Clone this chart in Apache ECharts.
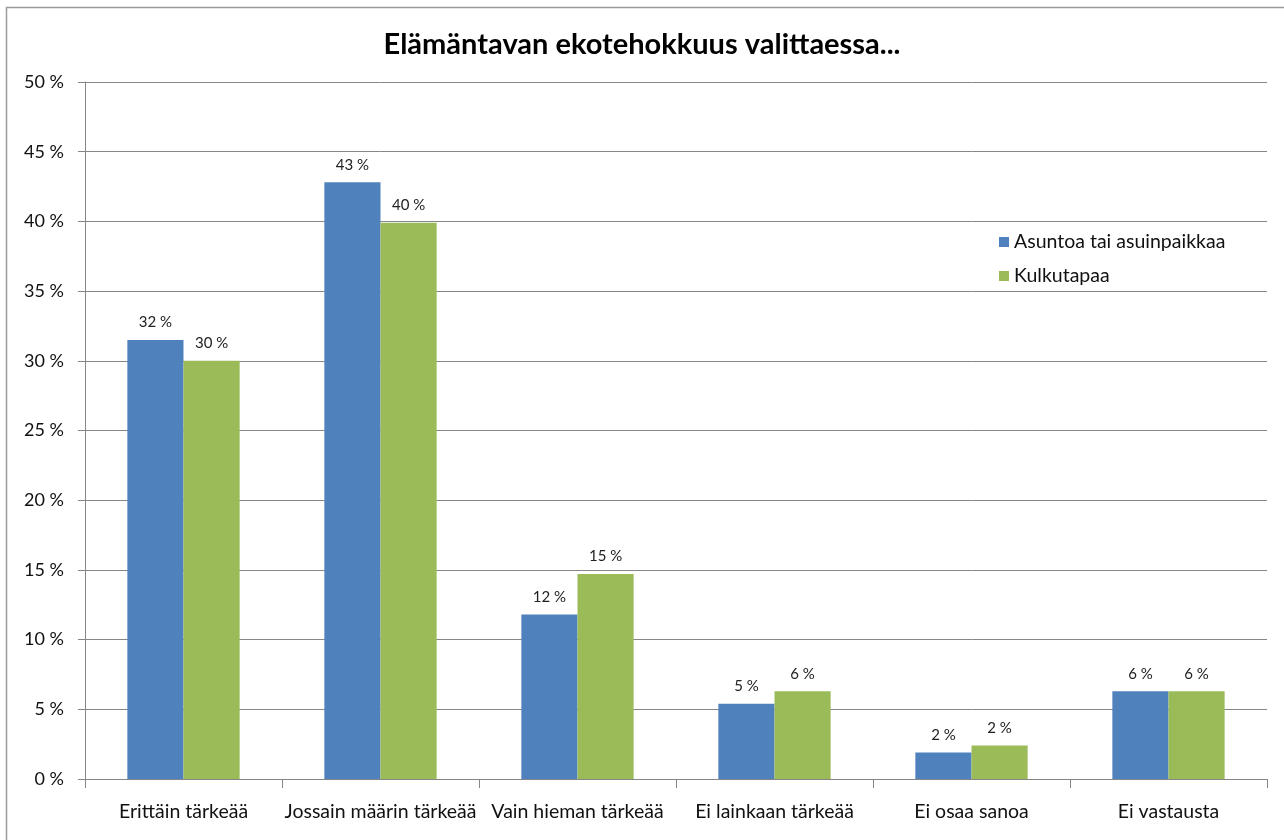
<!DOCTYPE html>
<html><head><meta charset="utf-8">
<script src="https://cdn.jsdelivr.net/npm/echarts@6/dist/echarts.min.js"></script>
<style>html,body{margin:0;padding:0;background:#fff}#c{width:1284px;height:840px}</style>
</head><body><div id="c"></div>
<script>
var categories = ['Erittäin tärkeää','Jossain määrin tärkeää','Vain hieman tärkeää','Ei lainkaan tärkeää','Ei osaa sanoa','Ei vastausta'];
var seriesNames = ['Asuntoa tai asuinpaikkaa','Kulkutapaa'];
var asuntoa = [31.5, 42.8, 11.8, 5.4, 1.9, 6.3];
var kulkutapaa = [30.0, 39.9, 14.7, 6.3, 2.4, 6.3];
var yTicks = {min:0, max:50, interval:5};

var font = 'Lato, "Open Sans", sans-serif';
var chart = echarts.init(document.getElementById('c'), null, {renderer:'canvas'});
function lbl(){return {show:true, position:'top', distance:10, fontFamily:font, fontSize:15, color:'#222',
  formatter:function(p){return Math.round(p.value)+' %';}};}
chart.setOption({
  animation:false,
  backgroundColor:'#fff',
  graphic:[{type:'rect', shape:{x:6.5,y:7.5,width:1400,height:900}, style:{fill:'none', stroke:'#9a9a9a', lineWidth:1.5}, silent:true}],
  title:{text:'Elämäntavan ekotehokkuus valittaessa...', left:'center', top:25,
    textStyle:{fontFamily:font, fontSize:29, fontWeight:'bold', color:'#000'}},
  legend:{orient:'vertical', left:997, top:230, itemWidth:10, itemHeight:10, itemGap:14,
    icon:'rect', backgroundColor:'#fff', padding:[2,4,2,2],
    textStyle:{fontFamily:font, fontSize:19.5, color:'#111'}, data:seriesNames},
  grid:{left:85, right:17, top:82, bottom:61, containLabel:false},
  xAxis:{type:'category', data:categories,
    axisLine:{lineStyle:{color:'#868686', width:1}},
    axisTick:{show:true, length:9, alignWithLabel:false, lineStyle:{color:'#868686'}},
    axisLabel:{fontFamily:font, fontSize:19.5, color:'#111', margin:23, interval:0}},
  yAxis:{type:'value', min:yTicks.min, max:yTicks.max, interval:yTicks.interval,
    axisLine:{show:true, lineStyle:{color:'#868686'}},
    axisTick:{show:true, length:7, lineStyle:{color:'#868686'}},
    axisLabel:{fontFamily:font, fontSize:18, color:'#111', margin:21, formatter:'{value} %'},
    splitLine:{lineStyle:{color:'#868686', width:1}}},
  series:[
    {name:seriesNames[0], type:'bar', data:asuntoa, barGap:'0%', barCategoryGap:'43%',
      itemStyle:{color:'#4F81BD'}, label:lbl()},
    {name:seriesNames[1], type:'bar', data:kulkutapaa, barGap:'0%', barCategoryGap:'43%',
      itemStyle:{color:'#9BBB59'}, label:lbl()}
  ]
});
</script></body></html>
